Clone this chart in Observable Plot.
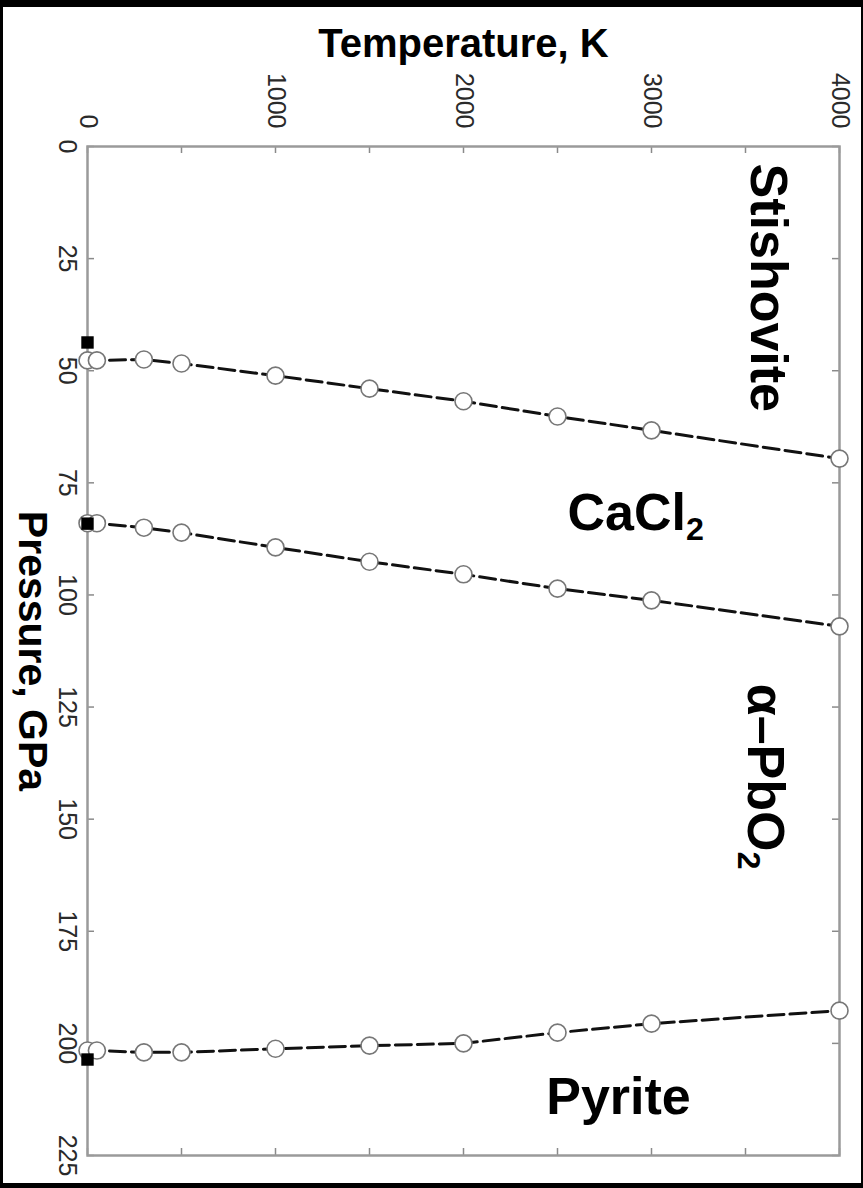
<!DOCTYPE html>
<html><head><meta charset="utf-8">
<script src="https://cdn.jsdelivr.net/npm/d3@7"></script>
<script src="https://cdn.jsdelivr.net/npm/@observablehq/plot@0.6"></script>
<style>
html,body{margin:0;padding:0;background:#000;width:863px;height:1188px;overflow:hidden;}
#chart{position:absolute;left:3px;top:7px;}
#chart svg{background:#fff;display:block;}
</style></head><body><div id="chart"></div>
<script>
// ---- data ----
const temperatures = [0, 50, 300, 500, 1000, 1500, 2000, 2500, 3000, 4000]; // K
const stishovite_CaCl2 = [47.7, 47.7, 47.5, 48.4, 51.1, 54.0, 56.8, 60.2, 63.3, 69.6]; // GPa
const CaCl2_PbO2 = [84.0, 84.0, 85.0, 86.1, 89.4, 92.6, 95.4, 98.6, 101.2, 107.0];
const PbO2_pyrite = [201.6, 201.6, 202.0, 202.0, 201.2, 200.5, 200.0, 197.6, 195.6, 192.7];
const staticPressures = [43.7, 84.1, 203.6]; // filled squares at 0 K
const tempTicks = [0, 500, 1000, 1500, 2000, 2500, 3000, 3500, 4000];
const tempLabels = [0, 1000, 2000, 3000, 4000];
const pressTicks = [0, 25, 50, 75, 100, 125, 150, 175, 200, 225];
const phaseNames = ["Stishovite", "CaCl2", "α–PbO2", "Pyrite"];
const phaseT = [3530, 2553, 3511, 2440];
const phaseP = [3.8, 85.6, 119.8, 215.7];
const phaseRot = [90, 0, 90, 0];

// ---- build tables ----
const boundaries = [["Stishovite–CaCl2", stishovite_CaCl2], ["CaCl2–αPbO2", CaCl2_PbO2], ["αPbO2–Pyrite", PbO2_pyrite]];
const lineData = boundaries.flatMap(([name, ps]) => ps.map((P, i) => ({boundary: name, T: temperatures[i], P})));
const squareData = staticPressures.map(P => ({T: 0, P}));
const phases = phaseNames.map((name, i) => ({name, T: phaseT[i], P: phaseP[i], rot: phaseRot[i]}));

const W = 858, H = 1176, mL = 84, mR = 22, mT = 139, mB = 28;
const fw = W - mL - mR, fh = H - mT - mB;
const font = "Liberation Sans, Arial, Helvetica, sans-serif";
const tickColor = "#8a8a8a";

const plot = Plot.plot({
  width: W, height: H,
  marginLeft: mL, marginRight: mR, marginTop: mT, marginBottom: mB,
  x: {domain: [0, 4000], axis: null},
  y: {domain: [0, 225], reverse: true, axis: null},
  style: {fontFamily: font, background: "#fff", overflow: "visible"},
  marks: [
    // inner ticks on all four sides
    Plot.tickX(tempTicks, {x: d => d, stroke: tickColor, strokeWidth: 1.5, insetBottom: fh - 7}),
    Plot.tickX(tempTicks, {x: d => d, stroke: tickColor, strokeWidth: 1.5, insetTop: fh - 7}),
    Plot.tickY(pressTicks, {y: d => d, stroke: tickColor, strokeWidth: 1.5, insetRight: fw - 7}),
    Plot.tickY(pressTicks, {y: d => d, stroke: tickColor, strokeWidth: 1.5, insetLeft: fw - 7}),
    Plot.frame({stroke: "#9a9a9a", strokeWidth: 2.5}),
    // tick labels
    Plot.text(tempLabels, {x: d => d, text: d => String(d), frameAnchor: "top", dy: -18, rotate: 90,
      textAnchor: "end", lineAnchor: "middle", fontSize: 25, fill: "#2a2a2a"}),
    Plot.text(pressTicks, {y: d => d, text: d => String(d), frameAnchor: "left", dx: -21, rotate: 90,
      textAnchor: "middle", lineAnchor: "middle", fontSize: 25, fill: "#2a2a2a"}),
    // axis titles
    Plot.text(["Temperature, K"], {frameAnchor: "top", dy: -90, lineAnchor: "bottom", textAnchor: "middle",
      fontSize: 40, fontWeight: "bold", fill: "#000"}),
    Plot.text(["Pressure, GPa"], {frameAnchor: "left", dx: -69, rotate: 90, lineAnchor: "bottom", textAnchor: "middle",
      fontSize: 41, fontWeight: "bold", fill: "#000"}),
    // phase boundaries
    Plot.line(lineData, {x: "T", y: "P", z: "boundary", stroke: "#111", strokeWidth: 3, strokeDasharray: "16,6"}),
    Plot.dot(lineData, {x: "T", y: "P", r: 8.5, fill: "white", stroke: "#777", strokeWidth: 1.6}),
    Plot.dot(squareData, {x: "T", y: "P", symbol: "square", r: 7, fill: "black"}),
    // phase names
    Plot.text(phases.filter(d => d.rot === 90), {x: "T", y: "P", text: "name", rotate: 90, textAnchor: "start",
      lineAnchor: "bottom", fontSize: 52, fontWeight: "bold", fill: "#000"}),
    Plot.text(phases.filter(d => d.rot === 0), {x: "T", y: "P", text: "name", textAnchor: "start",
      lineAnchor: "bottom", fontSize: 52, fontWeight: "bold", fill: "#000"})
  ]
});

// subscripts for chemical formulas
d3.select(plot).selectAll("text").each(function () {
  const t = this.textContent;
  if (t === "CaCl2" || t === "α–PbO2") {
    const el = d3.select(this);
    el.text(null);
    el.append("tspan").text(t.slice(0, -1));
    el.append("tspan").attr("font-size", "0.62em").attr("dy", "0.3em").text("2");
  }
});

document.getElementById("chart").appendChild(plot);
</script></body></html>
